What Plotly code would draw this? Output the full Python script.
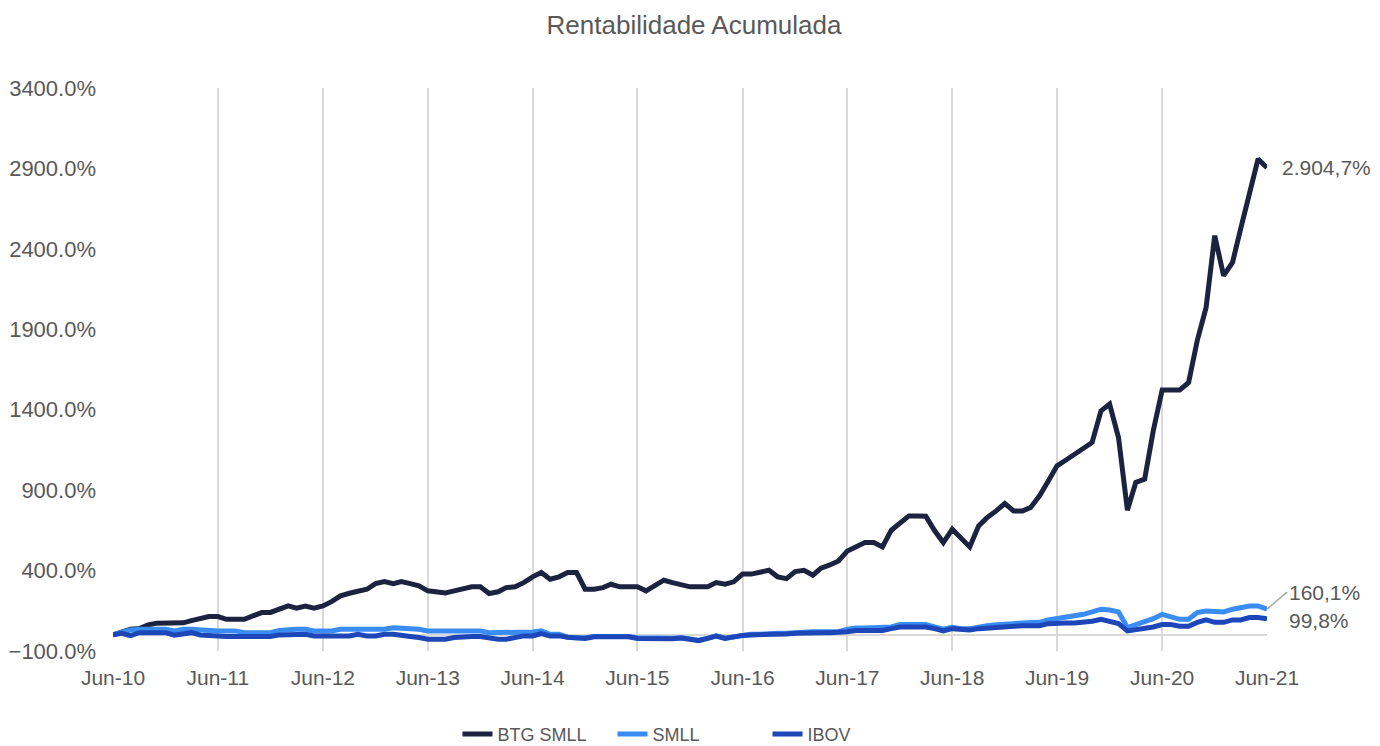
import pandas as pd
import plotly.graph_objects as go

# Monthly cumulative return (%), Jun-2010 .. Jun-2021
months = pd.date_range("2010-06-01", "2021-06-01", freq="MS")

btg_smll = [
    0, 20, 35, 40, 62, 73, 73, 73, 75, 89, 101, 114, 114, 97, 97, 97, 118, 139, 140, 160,
    180, 166, 180, 166, 180, 207, 243, 259, 274, 284, 319, 332, 319, 332, 319, 305, 274, 270, 261, 274,
    284, 299, 299, 257, 268, 294, 299, 325, 361, 388, 346, 361, 388, 388, 284, 284, 294, 315, 299, 299,
    299, 274, 305, 340, 325, 310, 299, 299, 299, 325, 315, 330, 378, 378, 388, 402, 361, 350, 394, 402,
    371, 415, 435, 460, 522, 547, 574, 574, 547, 651, 692, 740, 740, 738, 647, 574, 657, 605, 547, 678,
    730, 771, 817, 771, 771, 792, 865, 955, 1051, 1086, 1124, 1155, 1196, 1393, 1435, 1227, 775, 948, 968, 1269,
    1522, 1522, 1522, 1569, 1829, 2036, 2482, 2233, 2316, 2523, 2741, 2959, 2904.7,
]

smll = [
    0, 15, 31, 35, 35, 35, 35, 25, 35, 35, 31, 25, 25, 25, 25, 14, 14, 14, 14, 28,
    35, 35, 35, 25, 25, 25, 35, 35, 35, 35, 35, 35, 45, 39, 39, 35, 25, 25, 25, 28,
    28, 28, 25, 14, 14, 14, 14, 18, 18, 25, 4, 4, -14, -18, -18, -10, -10, -10, -10, -10,
    -18, -20, -20, -20, -20, -17, -27, -33, -20, -6, -20, -10, 0, 4, 4, 10, 10, 10, 14, 20,
    20, 20, 20, 20, 35, 43, 43, 43, 43, 49, 64, 64, 64, 64, 49, 35, 47, 39, 39, 52,
    57, 64, 70, 70, 74, 74, 78, 93, 101, 108, 118, 128, 143, 160, 155, 143, 46, 64, 78, 101,
    128, 114, 97, 97, 139, 149, 143, 143, 160, 170, 180, 180, 160.1,
]

ibov = [
    0, 10, -4, 14, 14, 14, 14, -2, 10, 14, 0, -6, -6, -10, -10, -10, -10, -10, -10, 0,
    4, 4, 4, -6, -6, -6, -6, -6, 4, -6, -6, 4, 4, -6, -10, -16, -27, -27, -27, -16,
    -10, -10, -10, -22, -27, -27, -16, -6, -6, 8, -6, -6, -14, -22, -22, -12, -12, -12, -12, -12,
    -22, -24, -24, -24, -24, -20, -30, -36, -22, -8, -22, -12, -3, 0, 0, 6, 6, 6, 10, 14,
    14, 14, 14, 14, 20, 28, 28, 28, 28, 39, 49, 49, 49, 49, 39, 25, 39, 33, 31, 39,
    43, 49, 54, 57, 57, 57, 57, 70, 74, 74, 74, 78, 85, 97, 85, 70, 25, 31, 39, 49,
    64, 64, 54, 54, 78, 93, 78, 78, 93, 93, 108, 108, 99.8,
]

series = [
    ("BTG SMLL", btg_smll, "#1c2340"),
    ("SMLL", smll, "#3a8cf5"),
    ("IBOV", ibov, "#1d47b8"),
]

FONT = "Liberation Sans, Arial, sans-serif"
GREY = "#595959"

fig = go.Figure()
for name, vals, color in series:
    fig.add_trace(go.Scatter(
        x=months, y=vals, name=name, mode="lines",
        line=dict(color=color, width=5),
    ))

last = months[-1]
fig.add_annotation(x=last, y=btg_smll[-1], text="2.904,7%", showarrow=False,
                   xanchor="left", xshift=13, font=dict(size=21, color=GREY))
fig.add_annotation(x=last, y=smll[-1], text="160,1%", showarrow=True, arrowhead=0,
                   arrowcolor="#a6a6a6", arrowwidth=1.5, ax=20, ay=-17,
                   xanchor="left", font=dict(size=21, color=GREY))
fig.add_annotation(x=last, y=ibov[-1], text="99,8%", showarrow=False,
                   xanchor="left", xshift=20, yshift=-2, font=dict(size=21, color=GREY))

# the page body adds an 8px offset, so the figure is 8px smaller on each side
fig.update_layout(
    width=1372, height=738,
    paper_bgcolor="white", plot_bgcolor="white",
    font=dict(family=FONT, color=GREY),
    title=dict(text="Rentabilidade Acumulada", x=0.5, xanchor="center",
               y=1 - 17 / 738, yanchor="middle", font=dict(size=26, color=GREY)),
    margin=dict(l=105, r=113, t=80, b=95, autoexpand=False),
    showlegend=True,
    legend=dict(orientation="h", x=0.5, xanchor="center", y=-0.148, yanchor="middle",
                font=dict(size=18, color=GREY), entrywidth=110, entrywidthmode="pixels"),
    xaxis=dict(
        range=[months[0], last], tick0="2010-06-01", dtick="M12", tickformat="%b-%y",
        showgrid=True, gridcolor="#d9d9d9", gridwidth=1.5, zeroline=False,
        showline=False, ticks="", ticklabelstandoff=12, automargin=False,
        tickfont=dict(size=21, color=GREY),
    ),
    yaxis=dict(
        range=[-100, 3400], tick0=-100, dtick=500, tickformat=".1f", ticksuffix="%",
        showgrid=False, zeroline=True, zerolinecolor="#d9d9d9", zerolinewidth=1.5,
        showline=False, ticks="", ticklabelstandoff=16, automargin=False,
        tickfont=dict(size=22, color=GREY),
    ),
)

fig.write_html("out.html")
